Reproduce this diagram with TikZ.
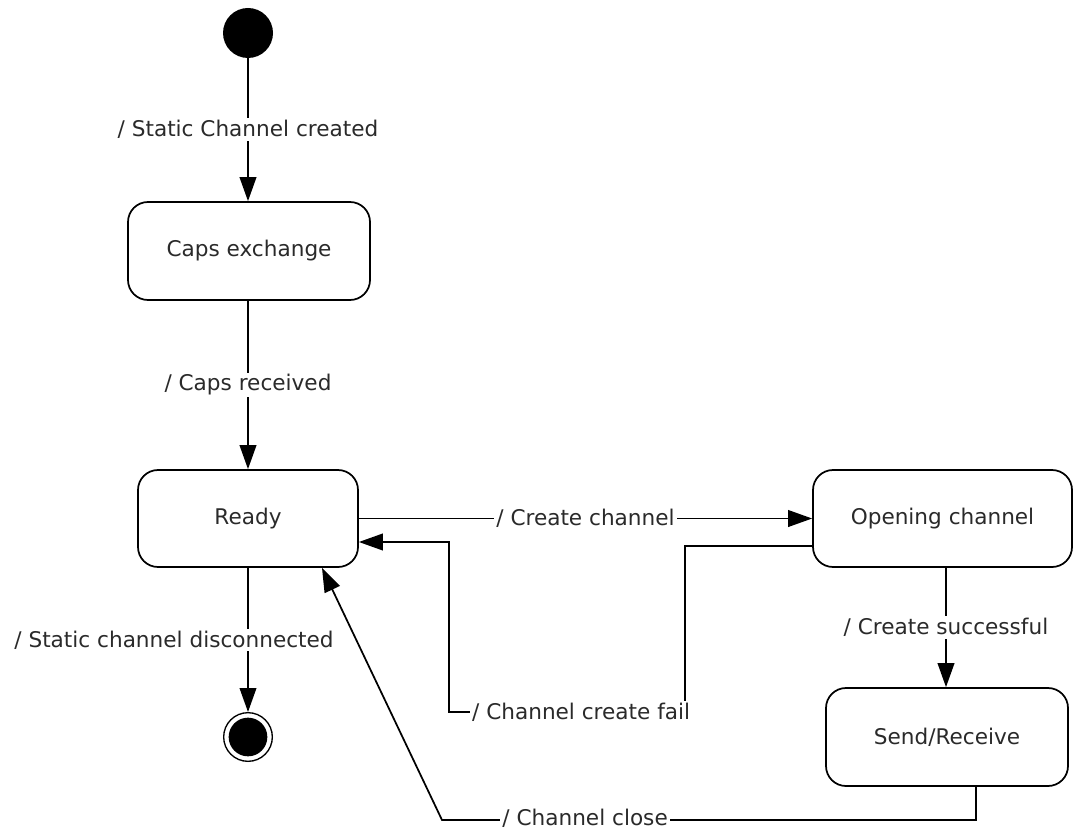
\documentclass[tikz,border=0pt]{standalone}
\usepackage{fontspec}
\setmainfont{DejaVu Sans}
\usetikzlibrary{arrows.meta}
\definecolor{txt}{HTML}{2A2A2A}
\tikzset{
  statebox/.style={draw=black, line width=1.3pt, rounded corners=15pt, inner sep=0pt, text=txt,
    font=\fontsize{16.2}{19}\selectfont},
  lbl/.style={fill=white, inner sep=1.5pt, text=txt, font=\fontsize{16.2}{19}\selectfont},
  arr/.style={draw=black, line width=1.3pt, -{Triangle[length=18pt, width=12.5pt]}},
}
\begin{document}
\begin{tikzpicture}[x=0.75pt, y=-0.75pt]
\useasboundingbox (0,0) rectangle (1074,831);
% states
\node[circle, fill=black, minimum size=37.5pt, inner sep=0pt] (init) at (248,33) {};
\node[statebox, minimum width=181.5pt, minimum height=73.5pt] (caps) at (249,251) {Caps exchange};
\node[statebox, minimum width=165pt, minimum height=72.75pt] (ready) at (248,518.5) {Ready};
\node[statebox, minimum width=194.25pt, minimum height=72.75pt] (open) at (942.5,518.5) {Opening channel};
\node[statebox, minimum width=181.5pt, minimum height=73.5pt] (send) at (947,737) {Send/Receive};
\node[circle, draw=black, line width=1pt, minimum size=36.5pt, inner sep=0pt] (final) at (248,737) {};
\node[circle, fill=black, minimum size=29pt, inner sep=0pt] (finalin) at (final.center) {};
% transitions
\draw[arr] (init) -- node[lbl] {/ Static Channel created} (init |- caps.north);
\draw[arr] (caps.south -| 248,0) -- node[lbl] {/ Caps received} (ready.north);
\draw[arr] (ready.south) -- node[lbl, xshift=-55.5pt] {/ Static channel disconnected} (final.north);
\draw[arr] (ready.east) -- node[lbl] {/ Create channel} (open.west);
\draw[arr] (open.west |- 0,546) -- (685,546) -- (685,712)
   -- node[lbl, pos=0.44] {/ Channel create fail} (449,712) -- (449,542) -- (ready.east |- 0,542);
\draw[arr] (open.south -| 946,0) -- node[lbl] {/ Create successful} (send.north -| 946,0);
\draw[arr] (send.south -| 976,0) -- (976,820)
   -- node[lbl, pos=0.732, inner ysep=0pt, yshift=1pt] {/ Channel close} (442,820) -- (ready.south -| 322,0);
\end{tikzpicture}
\end{document}
